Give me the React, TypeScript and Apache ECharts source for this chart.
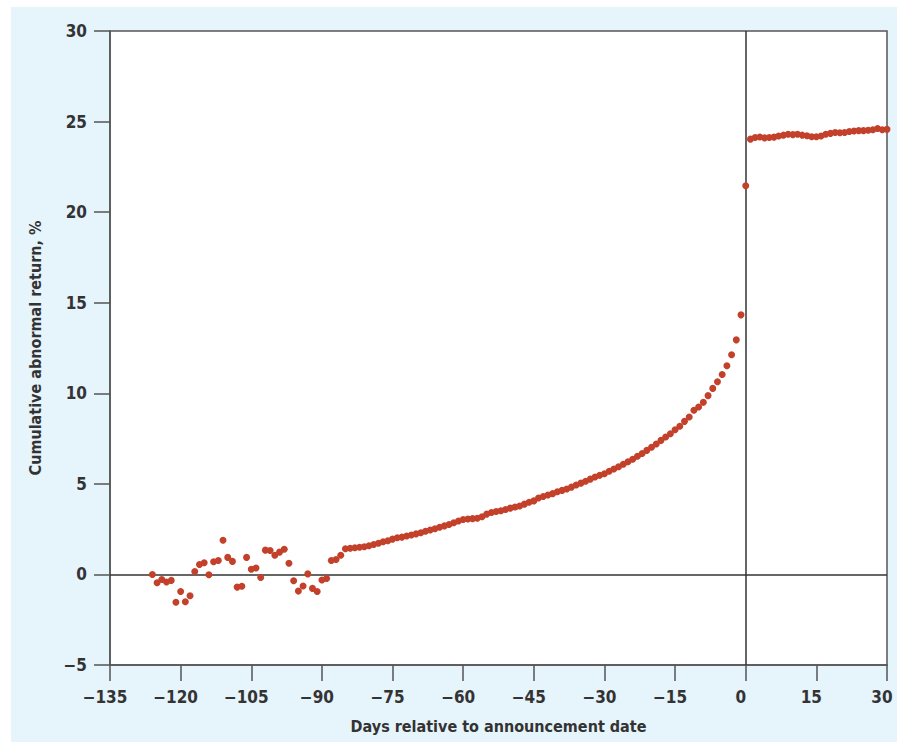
import React, { useEffect, useRef } from "react";
import * as echarts from "echarts";

// Days relative to announcement date
const preDays: number[] = [
  -126, -125, -124, -123, -122, -121, -120, -119, -118, -117, -116, -115, -114, -113,
  -112, -111, -110, -109, -108, -107, -106, -105, -104, -103, -102, -101, -100, -99,
  -98, -97, -96, -95, -94, -93, -92, -91, -90, -89, -88, -87, -86,
];
const preValues: number[] = [
  0.0, -0.46, -0.28, -0.42, -0.33, -1.54, -0.94, -1.51, -1.18, 0.16, 0.55, 0.64, -0.02, 0.7,
  0.77, 1.89, 0.94, 0.72, -0.7, -0.65, 0.94, 0.29, 0.35, -0.17, 1.34, 1.32, 1.06, 1.23,
  1.39, 0.62, -0.35, -0.92, -0.64, 0.03, -0.77, -0.94, -0.31, -0.22, 0.77, 0.82, 1.06,
];

const runupValues: number[] = [
  // -85 .. -19
  1.42, 1.45, 1.47, 1.5, 1.53, 1.58, 1.65, 1.72, 1.8, 1.86,
  1.95, 2.02, 2.06, 2.12, 2.18, 2.24, 2.3, 2.38, 2.45, 2.52,
  2.6, 2.68, 2.76, 2.85, 2.95, 3.03, 3.06, 3.08, 3.1, 3.18,
  3.33, 3.42, 3.47, 3.52, 3.58, 3.66, 3.72, 3.78, 3.88, 3.98,
  4.06, 4.22, 4.3, 4.38, 4.46, 4.56, 4.64, 4.72, 4.82, 4.94,
  5.04, 5.14, 5.26, 5.38, 5.47, 5.56, 5.7, 5.82, 5.94, 6.08,
  6.22, 6.36, 6.52, 6.68, 6.85, 7.02, 7.2,
  // -18 .. -1
  7.4, 7.59, 7.77, 7.99, 8.18, 8.45, 8.69, 9.06, 9.24, 9.5,
  9.87, 10.27, 10.64, 11.04, 11.52, 12.13, 12.95, 14.33,
];
const runupStart = -85;

const eventDayValue = 21.46; // day 0

const postValues: number[] = [
  // 1 .. 30
  24.03, 24.12, 24.15, 24.1, 24.12, 24.14, 24.2, 24.25, 24.3, 24.28,
  24.3, 24.25, 24.22, 24.16, 24.16, 24.2, 24.3, 24.35, 24.4, 24.38,
  24.4, 24.45, 24.48, 24.5, 24.5, 24.52, 24.55, 24.62, 24.55, 24.57,
];

const xTicksMin = -135;
const xTicksMax = 30;
const yMin = -5;
const yMax = 30;

const FONT = "'DejaVu Sans Condensed', 'Liberation Sans Narrow', 'Roboto', sans-serif";

function fmt(v: number): string {
  return v < 0 ? "\u2212" + String(Math.abs(v)) : String(v);
}

export default function App() {
  const ref = useRef<HTMLDivElement>(null);

  useEffect(() => {
    if (!ref.current) return;
    const chart = echarts.init(ref.current, undefined, { renderer: "svg" });

    const data: number[][] = [];
    preDays.forEach((d, i) => data.push([d, preValues[i]]));
    runupValues.forEach((v, i) => data.push([runupStart + i, v]));
    data.push([0, eventDayValue]);
    postValues.forEach((v, i) => data.push([i + 1, v]));

    chart.setOption({
      animation: false,
      backgroundColor: "#ffffff",
      graphic: [
        {
          type: "rect",
          z: -10,
          silent: true,
          shape: { x: 11, y: 7, width: 886, height: 735 },
          style: { fill: "#e6f4fc" },
        },
        {
          type: "rect",
          z: -9,
          silent: true,
          shape: { x: 110, y: 31, width: 777, height: 634 },
          style: { fill: "#ffffff" },
        },
      ],
      grid: {
        left: 110,
        right: 14,
        top: 31,
        bottom: 82,
        show: true,
        borderColor: "#555555",
        borderWidth: 1.5,
        backgroundColor: "transparent",
      },
      xAxis: {
        type: "value",
        min: xTicksMin,
        max: xTicksMax,
        interval: 15,
        name: "Days relative to announcement date",
        nameLocation: "middle",
        nameGap: 53,
        nameTextStyle: {
          fontFamily: FONT,
          fontSize: 16,
          fontWeight: "bold",
          color: "#333333",
        },
        axisLine: { onZero: false, lineStyle: { color: "#555555", width: 1.5 } },
        axisTick: { show: true, inside: false, length: 16, lineStyle: { color: "#555555", width: 1.5 } },
        axisLabel: {
          margin: 23,
          fontFamily: FONT,
          fontSize: 17,
          fontWeight: "bold",
          color: "#333333",
          padding: [0, 10, 0, 0],
          formatter: (v: number) => fmt(v),
        },
        splitLine: { show: false },
      },
      yAxis: {
        type: "value",
        min: yMin,
        max: yMax,
        interval: 5,
        name: "Cumulative abnormal return, %",
        nameLocation: "middle",
        nameGap: 67,
        nameRotate: 90,
        nameTextStyle: {
          fontFamily: FONT,
          fontSize: 16,
          fontWeight: "bold",
          color: "#333333",
        },
        axisLine: { onZero: false, lineStyle: { color: "#555555", width: 1.5 } },
        axisTick: { show: true, inside: false, length: 16, lineStyle: { color: "#555555", width: 1.5 } },
        axisLabel: {
          margin: 23,
          fontFamily: FONT,
          fontSize: 17,
          fontWeight: "bold",
          color: "#333333",
          formatter: (v: number) => fmt(v),
        },
        splitLine: { show: false },
      },
      series: [
        {
          type: "scatter",
          data,
          symbol: "circle",
          symbolSize: 7,
          itemStyle: { color: "#c3412b", opacity: 1 },
          z: 5,
          markLine: {
            silent: true,
            symbol: ["none", "none"],
            label: { show: false },
            lineStyle: { color: "#333333", width: 1.5, type: "solid" },
            data: [{ xAxis: 0 }, { yAxis: 0 }],
            z: 3,
          },
        },
      ],
    });

    return () => chart.dispose();
  }, []);

  return (
    <div
      ref={ref}
      style={{ position: "absolute", left: 0, top: 0, width: 901, height: 747 }}
    />
  );
}
